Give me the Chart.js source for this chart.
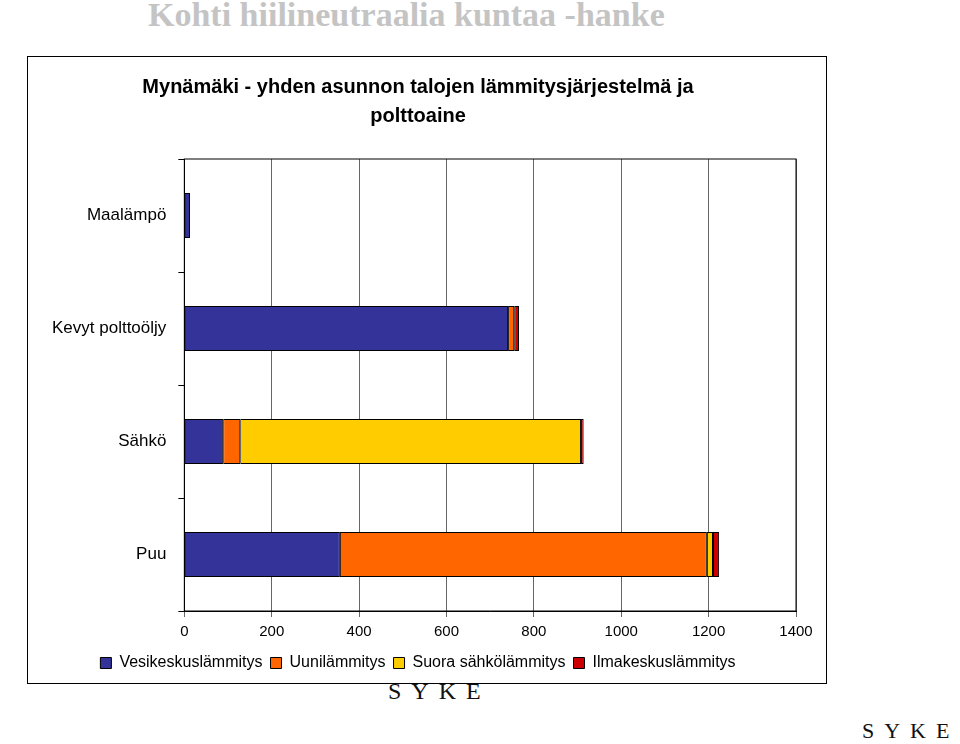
<!DOCTYPE html>
<html lang="fi">
<head>
<meta charset="UTF-8">
<title>Mynämäki</title>
<style>
  * { margin: 0; padding: 0; box-sizing: border-box; }
  body { width: 960px; height: 744px; background: #fff; position: relative; overflow: hidden; font-family: "Liberation Sans", Arial, sans-serif; }
  .head { position: absolute; left: 148px; top: -8px; line-height: 46px; font-family: "Liberation Serif", serif; font-weight: bold; font-size: 34px; color: #c4c4c4; }
  .box { position: absolute; left: 27px; top: 56px; width: 800px; height: 628px; border: 1px solid #000; background: #fff; }
  .syke { position: absolute; font-family: "Liberation Serif", serif; color: #111; letter-spacing: 10px; }
</style>
</head>
<body>
<div class="head">Kohti hiilineutraalia kuntaa -hanke</div>
<div class="syke" style="left:388px;top:678px;font-size:24px;">SYKE</div>
<div class="syke" style="left:862px;top:718px;font-size:22px;">SYKE</div>
<div class="box"><canvas id="chart"></canvas></div>
<script src="https://cdn.jsdelivr.net/npm/chart.js@4/dist/chart.umd.min.js"></script>
<script>
const categories = ['Maalämpö', 'Kevyt polttoöljy', 'Sähkö', 'Puu'];
const vesikeskus = [13, 741, 89, 356];
const uuni = [null, 14, 39, 840];
const suoraSahko = [null, null, 780, 14];
const ilmakeskus = [null, 11, 6, 14];
const xTicks = [0, 200, 400, 600, 800, 1000, 1200, 1400];

const mk = (label, data, color) => ({
  label, data, backgroundColor: color, borderColor: '#000', borderWidth: 1,
  borderSkipped: false, barPercentage: 0.4, categoryPercentage: 1
});

new Chart(document.getElementById('chart'), {
  type: 'bar',
  data: {
    labels: categories,
    datasets: [
      mk('Vesikeskuslämmitys', vesikeskus, '#333399'),
      mk('Uunilämmitys', uuni, '#ff6600'),
      mk('Suora sähkölämmitys', suoraSahko, '#ffcc00'),
      mk('Ilmakeskuslämmitys', ilmakeskus, '#cc0000')
    ]
  },
  options: {
    indexAxis: 'y',
    responsive: true,
    maintainAspectRatio: false,
    animation: false,
    layout: { padding: { left: 12, right: 30, top: 4, bottom: 2 } },
    plugins: {
      title: {
        display: true,
        text: ['Mynämäki - yhden asunnon talojen lämmitysjärjestelmä ja', 'polttoaine'],
        color: '#000',
        font: { family: 'Liberation Sans', size: 20, weight: 'bold', lineHeight: 1.45 },
        padding: { top: 12, bottom: 28 }
      },
      legend: {
        position: 'bottom',
        labels: { color: '#000', boxWidth: 11, boxHeight: 11, padding: 8, font: { family: 'Liberation Sans', size: 16 } }
      },
      tooltip: { enabled: false }
    },
    scales: {
      x: {
        stacked: true, min: 0, max: 1400,
        afterBuildTicks: s => { s.ticks = xTicks.map(v => ({ value: v })); },
        ticks: { color: '#000', font: { family: 'Liberation Sans', size: 15 }, padding: 6, callback: v => String(v) },
        grid: { color: '#666', lineWidth: 1, tickLength: 6 },
        border: { color: '#000' }
      },
      y: {
        stacked: true,
        ticks: { color: '#000', font: { family: 'Liberation Sans', size: 17 }, padding: 12 },
        grid: { offset: true, drawOnChartArea: false, color: '#000', tickLength: 6 },
        border: { color: '#000' }
      }
    }
  },
  plugins: [{
    id: 'frame',
    afterDraw(c) {
      const a = c.chartArea, g = c.ctx;
      g.save(); g.strokeStyle = '#000'; g.lineWidth = 1;
      g.strokeRect(a.left, a.top, a.right - a.left, a.bottom - a.top);
      g.restore();
    }
  }]
});
</script>
</body>
</html>
